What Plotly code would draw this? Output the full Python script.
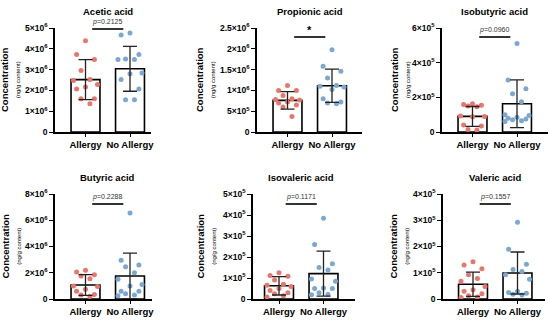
import plotly.graph_objects as go

# ---------------- data ----------------
groups = ["Allergy", "No Allergy"]
titles = ["Acetic acid", "Propionic acid", "Isobutyric acid",
          "Butyric acid", "Isovaleric acid", "Valeric acid"]
p_labels = ["<i>p</i>=0.2125", "*", "<i>p</i>=0.0960",
            "<i>p</i>=0.2288", "<i>p</i>=0.1171", "<i>p</i>=0.1557"]

acetic_allergy = [4.39e6, 3.72e6, 3.48e6, 2.96e6, 2.47e6, 2.52e6, 2.16e6, 2.28e6, 2.07e6, 1.60e6, 1.60e6, 1.36e6]
acetic_noallergy = [4.76e6, 4.66e6, 3.72e6, 3.51e6, 3.48e6, 3.48e6, 2.80e6, 2.84e6, 2.52e6, 2.07e6, 1.55e6, 1.55e6]
acetic_mean = [2.52e6, 3.04e6]
acetic_sd = [0.96e6, 1.08e6]

propionic_allergy = [1.12e6, 1.00e6, 1.00e6, 0.88e6, 0.80e6, 0.78e6, 0.77e6, 0.72e6, 0.70e6, 0.65e6, 0.60e6, 0.37e6]
propionic_noallergy = [1.98e6, 1.58e6, 1.46e6, 1.30e6, 1.12e6, 1.10e6, 1.08e6, 1.02e6, 0.80e6, 0.72e6, 0.70e6, 0.68e6]
propionic_mean = [0.76e6, 1.11e6]
propionic_sd = [0.21e6, 0.40e6]

isobutyric_allergy = [1.63e5, 1.55e5, 1.58e5, 1.50e5, 1.45e5, 0.92e5, 0.90e5, 0.88e5, 0.40e5, 0.35e5, 0.15e5, 0.12e5]
isobutyric_noallergy = [5.1e5, 3.0e5, 2.5e5, 2.2e5, 1.75e5, 1.0e5, 0.95e5, 0.85e5, 0.80e5, 0.75e5, 0.70e5, 0.65e5, 0.60e5]
isobutyric_mean = [0.90e5, 1.63e5]
isobutyric_sd = [0.57e5, 1.38e5]

butyric_allergy = [2.2e6, 2.05e6, 1.85e6, 1.75e6, 1.55e6, 1.0e6, 0.95e6, 0.75e6, 0.6e6, 0.35e6, 0.3e6, 0.2e6]
butyric_noallergy = [6.55e6, 2.95e6, 2.6e6, 2.45e6, 2.0e6, 1.5e6, 1.1e6, 1.0e6, 0.6e6, 0.6e6, 0.4e6, 0.3e6, 0.25e6]
butyric_mean = [1.07e6, 1.75e6]
butyric_sd = [0.79e6, 1.75e6]

isovaleric_allergy = [1.25e5, 1.12e5, 1.08e5, 0.9e5, 0.7e5, 0.65e5, 0.6e5, 0.5e5, 0.4e5, 0.3e5, 0.25e5, 0.15e5, 0.1e5]
isovaleric_noallergy = [3.85e5, 2.6e5, 1.68e5, 1.5e5, 1.38e5, 0.95e5, 0.85e5, 0.52e5, 0.5e5, 0.5e5, 0.3e5, 0.22e5, 0.2e5]
isovaleric_mean = [0.63e5, 1.21e5]
isovaleric_sd = [0.44e5, 1.07e5]

valeric_allergy = [1.42e5, 1.3e5, 1.15e5, 0.92e5, 0.78e5, 0.68e5, 0.48e5, 0.35e5, 0.3e5, 0.2e5, 0.12e5, 0.08e5, 0.06e5]
valeric_noallergy = [2.92e5, 1.9e5, 1.32e5, 1.12e5, 1.05e5, 0.92e5, 0.75e5, 0.3e5, 0.25e5, 0.22e5, 0.18e5, 0.15e5]
valeric_mean = [0.56e5, 0.99e5]
valeric_sd = [0.46e5, 0.80e5]

tick_vals = [
    [0, 1e6, 2e6, 3e6, 4e6, 5e6],
    [0, 5e5, 1e6, 1.5e6, 2e6, 2.5e6],
    [0, 2e5, 4e5, 6e5],
    [0, 2e6, 4e6, 6e6, 8e6],
    [0, 1e5, 2e5, 3e5, 4e5, 5e5],
    [0, 1e5, 2e5, 3e5, 4e5],
]
tick_text = [
    ["0", "1×10<sup>6</sup>", "2×10<sup>6</sup>", "3×10<sup>6</sup>", "4×10<sup>6</sup>", "5×10<sup>6</sup>"],
    ["0", "5×10<sup>5</sup>", "1×10<sup>6</sup>", "1.5×10<sup>6</sup>", "2×10<sup>6</sup>", "2.5×10<sup>6</sup>"],
    ["0", "2×10<sup>5</sup>", "4×10<sup>5</sup>", "6×10<sup>5</sup>"],
    ["0", "2×10<sup>6</sup>", "4×10<sup>6</sup>", "6×10<sup>6</sup>", "8×10<sup>6</sup>"],
    ["0", "1×10<sup>5</sup>", "2×10<sup>5</sup>", "3×10<sup>5</sup>", "4×10<sup>5</sup>", "5×10<sup>5</sup>"],
    ["0", "1×10<sup>5</sup>", "2×10<sup>5</sup>", "3×10<sup>5</sup>", "4×10<sup>5</sup>"],
]

panels = [
    (acetic_allergy, acetic_noallergy, acetic_mean, acetic_sd),
    (propionic_allergy, propionic_noallergy, propionic_mean, propionic_sd),
    (isobutyric_allergy, isobutyric_noallergy, isobutyric_mean, isobutyric_sd),
    (butyric_allergy, butyric_noallergy, butyric_mean, butyric_sd),
    (isovaleric_allergy, isovaleric_noallergy, isovaleric_mean, isovaleric_sd),
    (valeric_allergy, valeric_noallergy, valeric_mean, valeric_sd),
]

# ---------------- layout (pixels) ----------------
W, H = 550, 320
UNIT = 44.5  # px per category step
# (y-axis x, x-axis end, first centre, top px, zero px, y-title centre x)
geom = [
    (55, 151, 85.5, 28, 132, 10),
    (257, 362, 287.5, 28, 132, 205),
    (442, 548, 472.5, 28, 132, 400),
    (55, 152, 85.5, 194, 299, 10),
    (253, 355, 279.0, 194, 299, 205),
    (443, 545, 473.0, 194, 299, 398),
]
RED = "#E8766B"
BLUE = "#7AA8D2"
FONT = "Liberation Sans, Arial, sans-serif"

JIT = [0.0, -0.2, 0.2, -0.1, 0.1, -0.27, 0.27]


def jitter(vals):
    order = sorted(range(len(vals)), key=lambda k: -vals[k])
    off = [0.0] * len(vals)
    for r, k in enumerate(order):
        off[k] = JIT[r % len(JIT)]
    return off


fig = go.Figure()
annotations = []
shapes = []
for i, ((ga, gb, mean, sd), (ax, xe, c1, top, zero, ytx)) in enumerate(zip(panels, geom)):
    n = i + 1
    xa = "x" if n == 1 else f"x{n}"
    ya = "y" if n == 1 else f"y{n}"
    fig.add_trace(go.Bar(x=[0, 1], y=mean, width=0.65, xaxis=xa, yaxis=ya,
                         marker=dict(color="white", line=dict(color="black", width=1.6)),
                         showlegend=False, hoverinfo="skip"))
    for k, (vals, col) in enumerate([(ga, RED), (gb, BLUE)]):
        offs = jitter(vals)
        fig.add_trace(go.Scatter(x=[k + o for o in offs], y=vals, mode="markers",
                                 xaxis=xa, yaxis=ya, cliponaxis=False,
                                 marker=dict(color=col, size=5, line=dict(width=0)),
                                 showlegend=False))
    fig.add_trace(go.Scatter(x=[0, 1], y=mean, mode="markers", xaxis=xa, yaxis=ya,
                             marker=dict(size=1, color="rgba(0,0,0,0)"),
                             error_y=dict(type="data", array=sd, visible=True,
                                          color="#222", thickness=1.3, width=7),
                             cliponaxis=False, showlegend=False))
    x0 = (ax - c1) / UNIT
    x1 = (xe - c1) / UNIT
    fig.layout[f"xaxis{'' if n == 1 else n}"] = dict(
        domain=[ax / W, xe / W], range=[x0, x1], anchor=ya, automargin=False,
        tickvals=[0, 1], ticktext=groups, showline=True, linecolor="black", linewidth=1.6,
        ticks="outside", ticklen=3, tickwidth=1.3, tickcolor="black",
        tickfont=dict(family=FONT, size=9.5, color="black", weight="bold"),
        showgrid=False, zeroline=False, fixedrange=True)
    tv = tick_vals[i]
    fig.layout[f"yaxis{'' if n == 1 else n}"] = dict(
        domain=[1 - zero / H, 1 - top / H], range=[0, tv[-1]], anchor=xa, automargin=False,
        tickvals=tv, ticktext=tick_text[i], showline=True, linecolor="black", linewidth=1.6,
        ticks="outside", ticklen=4, tickwidth=1.3, tickcolor="black",
        tickfont=dict(family=FONT, size=8.5, color="black", weight="bold"),
        showgrid=False, zeroline=False, fixedrange=True)
    # title
    annotations.append(dict(xref=xa, yref="paper", x=0.5, y=1 - (top - 17) / H,
                            text=f"<b>{titles[i]}</b>", showarrow=False,
                            font=dict(family=FONT, size=9.5, color="black"),
                            xanchor="center", yanchor="middle"))
    # y title
    annotations.append(dict(xref="paper", yref="paper", x=ytx / W,
                            y=1 - (top + zero) / 2 / H, textangle=-90,
                            text="<b>Concentration</b><br><span style='font-size:6px'>(ng/g content)</span>",
                            showarrow=False, font=dict(family=FONT, size=9.5, color="black"),
                            xanchor="center", yanchor="middle"))
    # significance
    line_px = top + 1 if i == 0 else top + 9
    if i >= 3:
        line_px = top + 10
    shapes.append(dict(type="line", xref=xa, yref="paper", x0=0.15, x1=0.85,
                       y0=1 - line_px / H, y1=1 - line_px / H,
                       line=dict(color="black", width=1.6)))
    if p_labels[i] == "*":
        annotations.append(dict(xref=xa, yref="paper", x=0.5, y=1 - (line_px - 7) / H,
                                text="<b>*</b>", showarrow=False,
                                font=dict(family=FONT, size=11, color="black"),
                                xanchor="center", yanchor="middle"))
    else:
        annotations.append(dict(xref=xa, yref="paper", x=0.5, y=1 - (line_px - 7) / H,
                                text=p_labels[i], showarrow=False,
                                font=dict(family=FONT, size=7, color="#333333"),
                                xanchor="center", yanchor="middle"))

fig.update_layout(width=W, height=H, margin=dict(l=0, r=0, t=0, b=0),
                  paper_bgcolor="white", plot_bgcolor="white",
                  annotations=annotations, shapes=shapes, barmode="overlay",
                  font=dict(family=FONT))
fig.write_html("out.html", config={"displayModeBar": False},
               post_script="document.body.style.margin='0';document.body.style.overflow='hidden';")
